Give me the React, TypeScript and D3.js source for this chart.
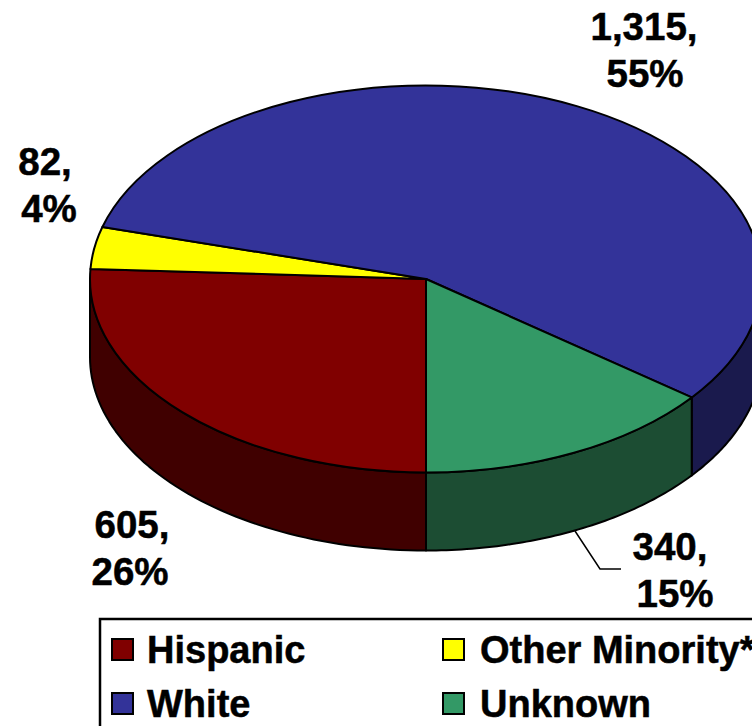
import React from "react";
import * as d3 from "d3";

const categories = ["Hispanic", "Other Minority*", "White", "Unknown"];
const counts = [605, 82, 1315, 340];
const topColors = ["#800000", "#ffff00", "#333399", "#339966"];
const sideColors = ["#400000", "#808000", "#1a1a4d", "#1c4d33"];
const labelLines = [["605,", "26%"], ["82,", "4%"], ["1,315,", "55%"], ["340,", "15%"]];
const labelX = [[132, 130], [45, 49], [644, 645], [670, 675]];
const labelY = [538, 175, 40, 560];
const legendCategories = [0, 1, 2, 3];

const W = 752, H = 726;
const cx = 426, cy = 279, rx = 336, ry = 193.5, depth = 78;

// d3 angle: 0 at north, clockwise
const pie = d3.pie<number>().sort(null).startAngle(Math.PI).endAngle(3 * Math.PI);
const arcs = pie(counts);
const arcGen = d3.arc<d3.PieArcDatum<number>>().innerRadius(0).outerRadius(rx);
const ex = (a: number) => cx + rx * Math.sin(a);
const ey = (a: number) => cy - ry * Math.cos(a);

function wall(a0: number, a1: number) {
  const lo = Math.max(a0, Math.PI / 2), hi = Math.min(a1, 1.5 * Math.PI);
  if (hi <= lo) return null;
  const steps = d3.range(0, 61).map((i) => lo + ((hi - lo) * i) / 60);
  const pts: [number, number][] = [
    ...steps.map((a): [number, number] => [ex(a), ey(a)]),
    ...steps.slice().reverse().map((a): [number, number] => [ex(a), ey(a) + depth]),
  ];
  return d3.line()(pts)! + "Z";
}

export default function App() {
  const walls = arcs.flatMap((d, i) => {
    const a0 = d.startAngle, a1 = d.endAngle;
    const parts: string[] = [];
    const w1 = wall(a0, a1);
    if (w1) parts.push(w1);
    const w2 = wall(a0 - 2 * Math.PI, a1 - 2 * Math.PI);
    if (w2) parts.push(w2);
    return parts.map((p) => ({ p, i }));
  });
  const fontFamily = "'Liberation Sans', Arial, sans-serif";
  const legendRows = [[0, 1], [2, 3]];
  return (
    <svg width={W} height={H} style={{ position: "fixed", left: 0, top: 0, background: "#fff" }} fontFamily={fontFamily}>
      {walls.map(({ p, i }, k) => (
        <path key={k} d={p} fill={sideColors[i]} stroke="#000" strokeWidth={2} strokeLinejoin="round" />
      ))}
      <g transform={`translate(${cx},${cy}) scale(1,${ry / rx})`}>
        {arcs.map((d, i) => (
          <path
            key={i}
            d={arcGen(d)!}
            fill={topColors[i]}
            stroke="#000"
            strokeWidth={2}
            strokeLinejoin="round"
            vectorEffect="non-scaling-stroke"
          />
        ))}
      </g>
      <polyline points="575,531 600,569 621,569" fill="none" stroke="#000" strokeWidth={1.5} />
      {labelLines.map((lines, i) => (
        <text key={i} textAnchor="middle" fontWeight="bold" fontSize={38.5} fill="#000" stroke="#000" strokeWidth={0.5}>
          {lines.map((t, j) => (
            <tspan key={j} x={labelX[i][j]} y={labelY[i] + j * 47}>{t}</tspan>
          ))}
        </text>
      ))}
      <rect x={100} y={619} width={700} height={120} fill="#fff" stroke="#000" strokeWidth={2.5} />
      {legendRows.map((row, r) =>
        row.map((c, k) => {
          const x = k === 0 ? 112 : 443;
          const y = r === 0 ? 639 : 693;
          const idx = legendCategories[c];
          return (
            <g key={c}>
              <rect x={x} y={y} width={21} height={21} fill={topColors[idx]} stroke="#000" strokeWidth={2} />
              <text x={x + (k === 0 ? 35 : 37)} y={y + 24} fontSize={38} fontWeight="bold" fill="#000" stroke="#000" strokeWidth={0.5}>
                {categories[idx]}
              </text>
            </g>
          );
        })
      )}
    </svg>
  );
}
